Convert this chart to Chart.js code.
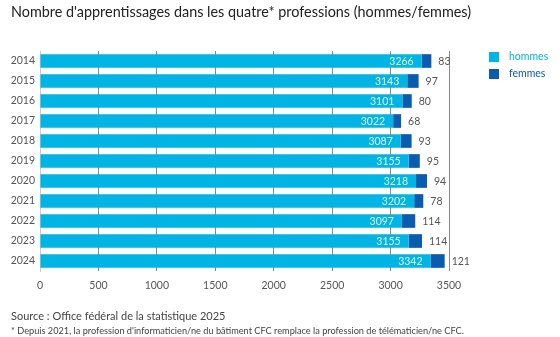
<!DOCTYPE html>
<html>
<head>
<meta charset="utf-8">
<script src="https://cdn.jsdelivr.net/npm/chart.js@4"></script>
<style>
  html, body { margin: 0; padding: 0; background: #fff; }
  body { width: 560px; height: 337px; position: relative; overflow: hidden; font-family: Lato, "Open Sans", sans-serif; }
  #wrap { position: absolute; left: 0; top: 0; width: 560px; height: 337px; }
  .title { position: absolute; left: 11px; top: 3px; font-size: 14.4px; color: #222; white-space: nowrap; }
  .src { position: absolute; left: 11px; top: 309px; font-size: 11px; color: #444; white-space: nowrap; }
  .note { position: absolute; left: 11px; top: 325px; font-size: 9.2px; color: #444; white-space: nowrap; }
</style>
</head>
<body>
<div id="wrap"><canvas id="chart"></canvas></div>
<div class="title">Nombre d'apprentissages dans les quatre* professions (hommes/femmes)</div>
<div class="src">Source : Office fédéral de la statistique 2025</div>
<div class="note">* Depuis 2021, la profession d'informaticien/ne du bâtiment CFC remplace la profession de télématicien/ne CFC.</div>
<script>
const years = ['2014', '2015', '2016', '2017', '2018', '2019', '2020', '2021', '2022', '2023', '2024'];
const hommes = [3266, 3143, 3101, 3022, 3087, 3155, 3218, 3202, 3097, 3155, 3342];
const femmes = [83, 97, 80, 68, 93, 95, 94, 78, 114, 114, 121];
const seriesNames = ['hommes', 'femmes'];
const colors = ['#00b4e3', '#0a5cae'];

const FONT = 'Lato, "Open Sans", sans-serif';

// value labels: inside the hommes bar, outside after the femmes part
const valueLabels = {
  id: 'valueLabels',
  afterDatasetsDraw(chart) {
    const ctx = chart.ctx;
    ctx.save();
    ctx.font = '10.5px ' + FONT;
    ctx.textBaseline = 'middle';
    chart.getDatasetMeta(0).data.forEach((bar, i) => {
      ctx.fillStyle = '#dff4fb';
      ctx.textAlign = 'right';
      ctx.fillText(hommes[i], bar.x - 8, bar.y + 0.5);
    });
    chart.getDatasetMeta(1).data.forEach((bar, i) => {
      ctx.fillStyle = '#555';
      ctx.textAlign = 'left';
      ctx.fillText(femmes[i], bar.x + 7, bar.y + 0.5);
    });
    ctx.restore();
  }
};

// legend in the top-right corner, text in series colour
const sideLegend = {
  id: 'sideLegend',
  afterDraw(chart) {
    const ctx = chart.ctx;
    ctx.save();
    ctx.font = '10.5px ' + FONT;
    ctx.textBaseline = 'middle';
    ctx.textAlign = 'left';
    chart.data.datasets.forEach((ds, i) => {
      const y = 57 + i * 17;
      ctx.fillStyle = ds.backgroundColor;
      ctx.fillRect(489, y - 5, 10, 10);
      ctx.fillText(ds.label, 509, y);
    });
    ctx.restore();
  }
};

new Chart(document.getElementById('chart'), {
  type: 'bar',
  data: {
    labels: years,
    datasets: [
      { label: seriesNames[0], data: hommes, backgroundColor: colors[0], barPercentage: 0.76, categoryPercentage: 0.9 },
      { label: seriesNames[1], data: femmes, backgroundColor: colors[1], barPercentage: 0.76, categoryPercentage: 0.9 }
    ]
  },
  options: {
    indexAxis: 'y',
    responsive: true,
    maintainAspectRatio: false,
    animation: false,
    layout: { padding: { top: 51, right: 111, left: 0, bottom: 0 } },
    plugins: {
      legend: { display: false },
      tooltip: { enabled: false }
    },
    scales: {
      x: {
        stacked: true,
        min: 0,
        max: 3500,
        ticks: {
          stepSize: 500,
          color: '#555',
          font: { family: FONT, size: 10.5 },
          padding: 8,
          callback: v => String(v)
        },
        grid: { color: '#8a8a8a', drawTicks: false, lineWidth: 1 },
        border: { display: false },
        afterFit(scale) { scale.height = 66; }
      },
      y: {
        stacked: true,
        ticks: { color: '#555', font: { family: FONT, size: 10.5 }, padding: 5 },
        grid: { display: false, drawTicks: false },
        border: { color: '#ccc' },
        afterFit(scale) { scale.width = 40; }
      }
    }
  },
  plugins: [valueLabels, sideLegend]
});
</script>
</body>
</html>
